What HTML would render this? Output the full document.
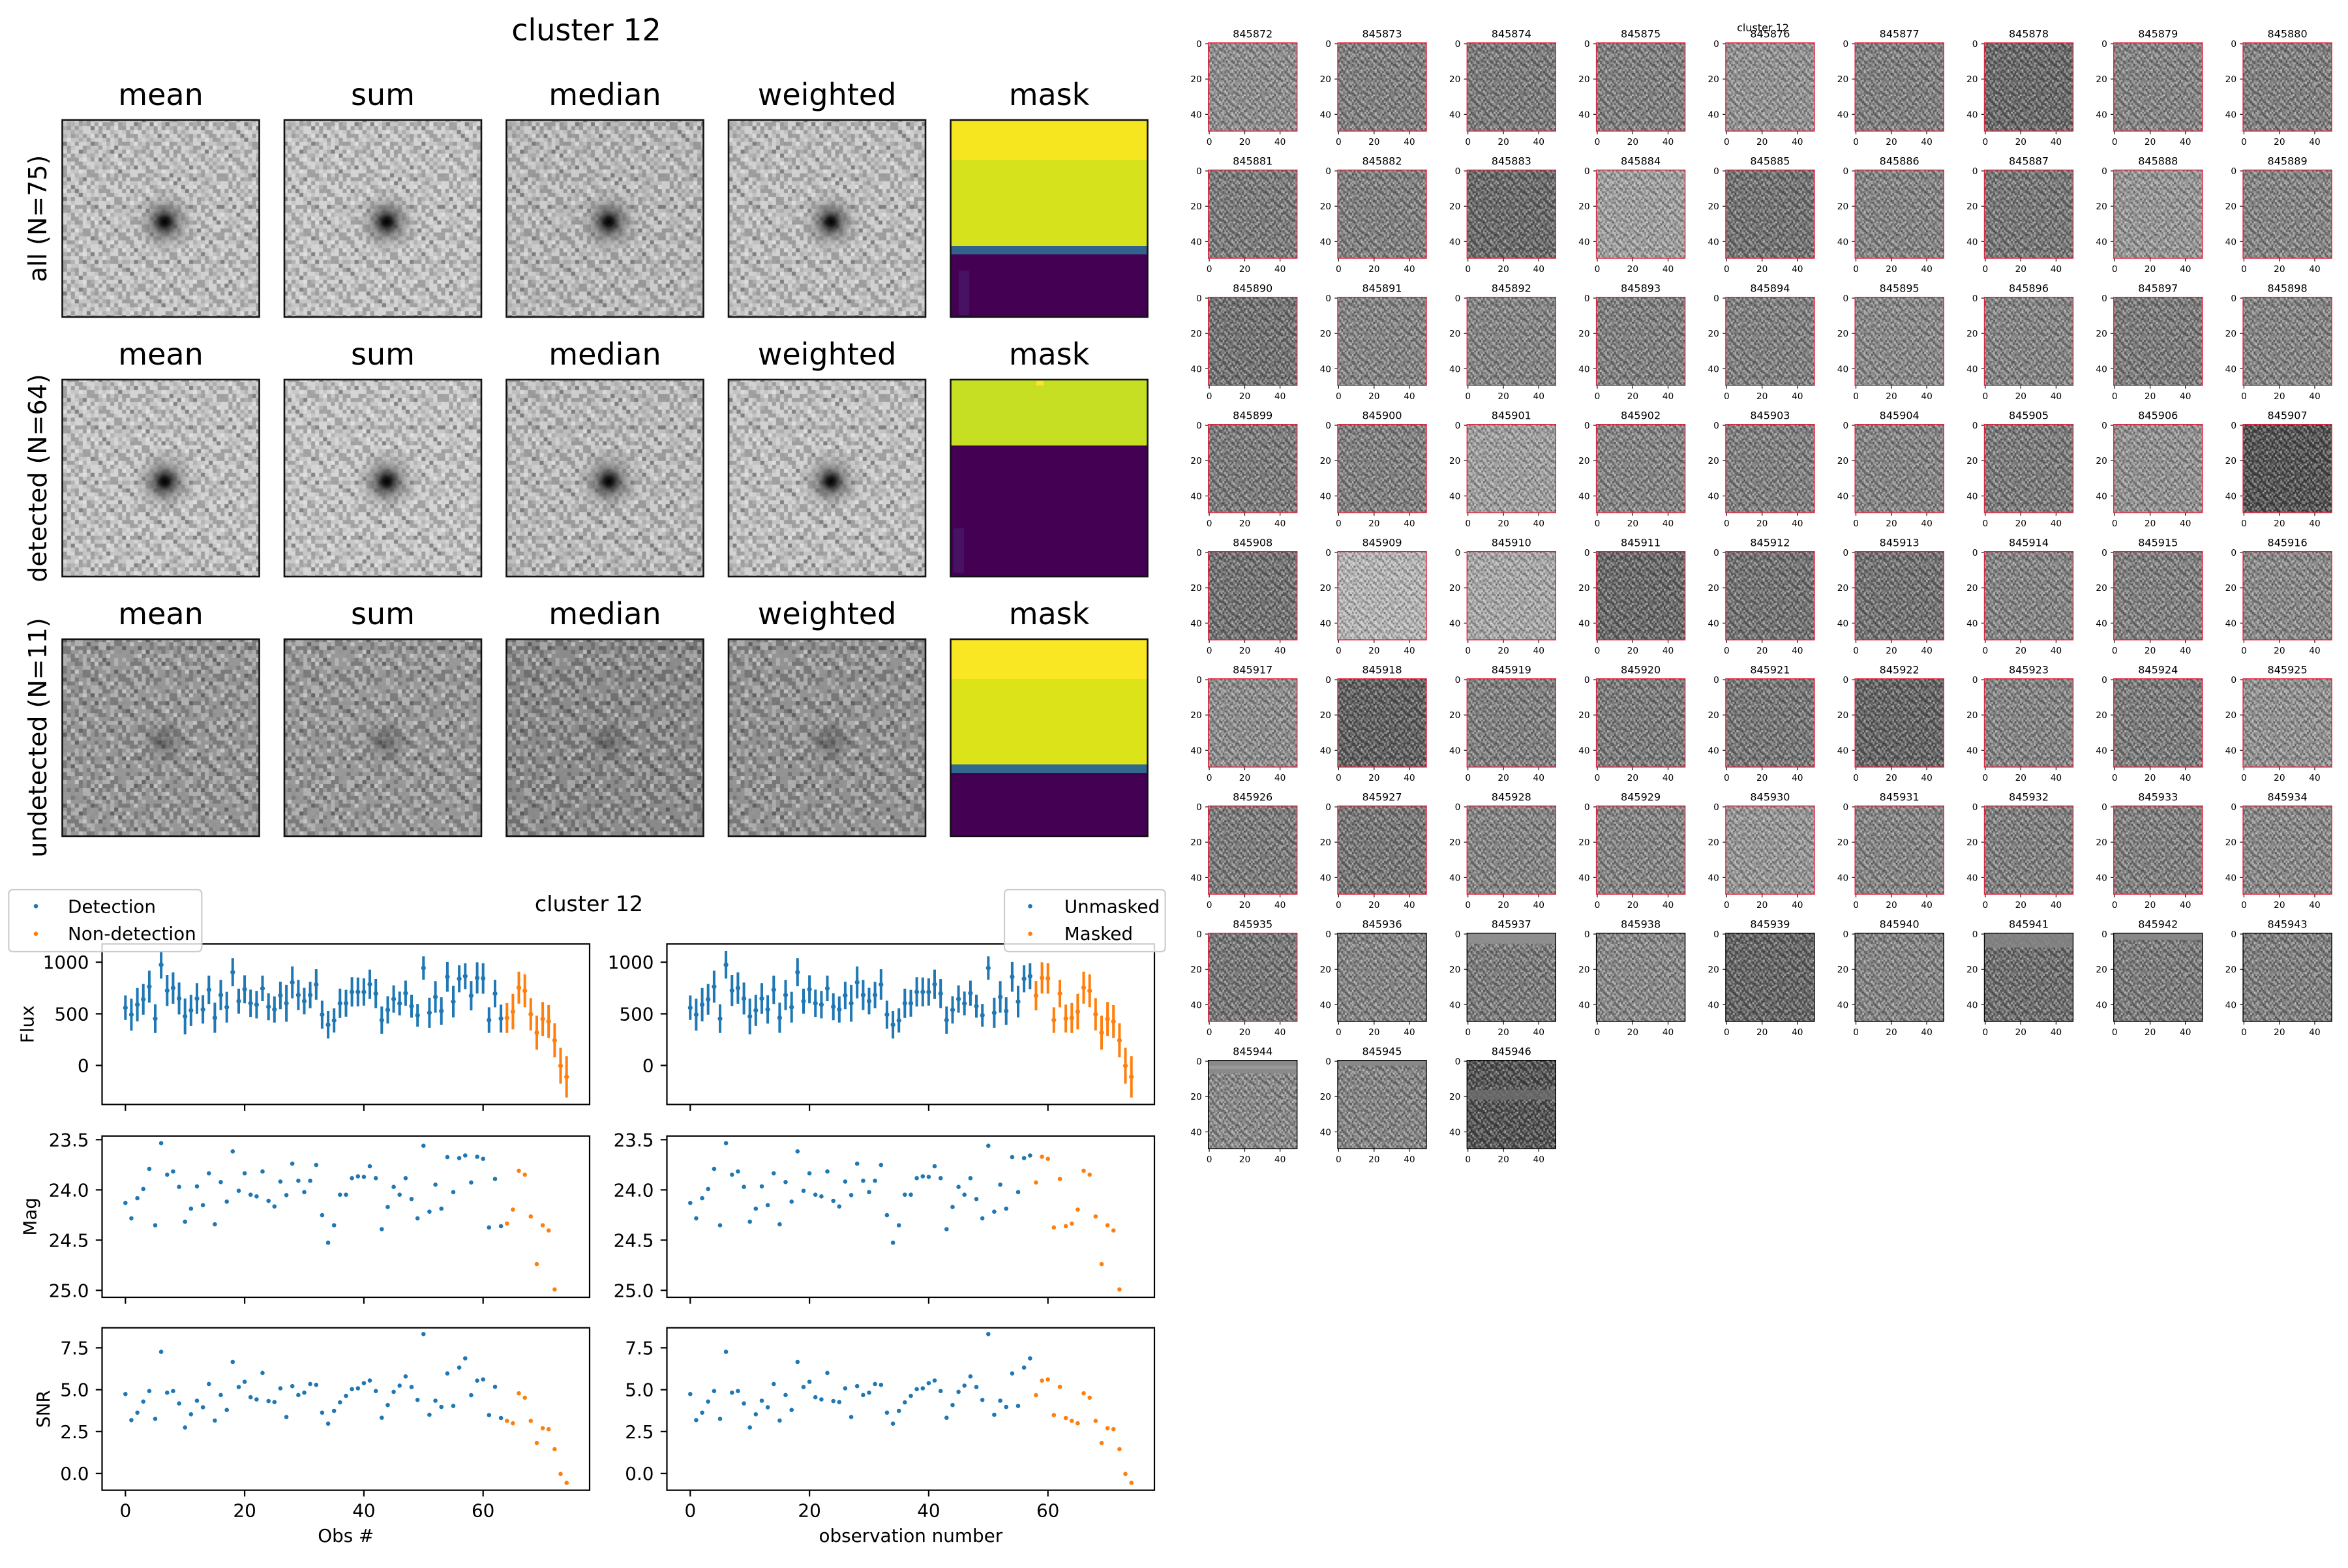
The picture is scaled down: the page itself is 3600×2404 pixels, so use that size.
<!DOCTYPE html>
<html><head><meta charset="utf-8"><style>
html,body{margin:0;padding:0;background:#fff}
svg{display:block}
text{font-family:"DejaVu Sans","Liberation Sans",sans-serif;fill:#000}
.h{font-size:46px;text-anchor:middle}
.rl{font-size:38px;text-anchor:middle}
.l{font-size:27.8px}
.lm{font-size:27.8px;text-anchor:middle}
.le{font-size:27.8px;text-anchor:end}
.tt{font-size:16px;text-anchor:middle}
.ky{font-size:13.7px;text-anchor:end}
.kx{font-size:13.7px;text-anchor:middle}
.sr{fill:none;stroke:#e0203c;stroke-width:1.4}
.sb{fill:none;stroke:#000;stroke-width:1.4}
.fr{fill:none;stroke:#111;stroke-width:2.6}
</style></head><body>
<svg xmlns="http://www.w3.org/2000/svg" xmlns:xlink="http://www.w3.org/1999/xlink" width="3600" height="2404" viewBox="0 0 3600 2404">
<defs>
<pattern id="pa" width="8" height="8" patternUnits="userSpaceOnUse">
<path fill="#fff" fill-opacity=".26" d="M0 0h1v1H0zM2 1h1v1H2zM5 0h1v1H5zM7 2h1v1H7zM1 3h1v1H1zM4 3h1v1H4zM6 5h1v1H6zM3 6h1v1H3zM0 6h1v1H0zM5 7h1v1H5zM2 4h1v1H2zM7 7h1v1H7zM6 1h1v1H6zM3 2h1v1H3zM4 5h1v1H4zM1 7h1v1H1z"/>
<path fill="#000" fill-opacity=".2" d="M1 0h1v1H1zM4 1h1v1H4zM0 2h1v1H0zM6 3h1v1H6zM3 4h1v1H3zM5 5h1v1H5zM1 5h1v1H1zM7 4h1v1H7zM2 7h1v1H2zM4 6h1v1H4zM6 7h1v1H6zM0 4h1v1H0zM3 0h1v1H3zM5 2h1v1H5zM7 0h1v1H7zM2 2h1v1H2z"/>
</pattern>
<pattern id="pb" width="7" height="7" patternUnits="userSpaceOnUse">
<path fill="#fff" fill-opacity=".22" d="M0 1h1v1H0zM3 0h1v1H3zM5 2h1v1H5zM1 4h1v1H1zM6 5h1v1H6zM2 6h1v1H2zM4 3h1v1H4zM0 5h1v1H0zM6 1h1v1H6z"/>
<path fill="#000" fill-opacity=".18" d="M2 1h1v1H2zM6 0h1v1H6zM4 5h1v1H4zM1 2h1v1H1zM3 3h1v1H3zM5 6h1v1H5zM0 3h1v1H0zM6 3h1v1H6zM2 4h1v1H2z"/>
</pattern>
<pattern id="n1" width="56" height="56" patternUnits="userSpaceOnUse" patternTransform="scale(6.04)"><rect width="56" height="56" fill="url(#pa)"/><rect width="56" height="56" fill="url(#pb)"/></pattern>
<pattern id="n2" width="56" height="56" patternUnits="userSpaceOnUse" patternTransform="scale(2.72)"><rect width="56" height="56" fill="url(#pa)"/><rect width="56" height="56" fill="url(#pb)"/><rect width="56" height="56" fill="url(#pa)" opacity=".4"/></pattern>
<radialGradient id="bl"><stop offset="0" stop-color="#000" stop-opacity="1"/><stop offset=".13" stop-color="#111" stop-opacity=".95"/><stop offset=".38" stop-color="#555" stop-opacity=".6"/><stop offset=".7" stop-color="#888" stop-opacity=".25"/><stop offset="1" stop-color="#999" stop-opacity="0"/></radialGradient>
<radialGradient id="bl3"><stop offset="0" stop-color="#333" stop-opacity=".55"/><stop offset=".5" stop-color="#555" stop-opacity=".3"/><stop offset="1" stop-color="#777" stop-opacity="0"/></radialGradient>
<rect id="bx" width="136" height="135.3"/>
<path id="tk" fill="none" stroke="#000" stroke-width="1.2" d="M0 1.35h-4.7M0 55.5h-4.7M0 109.6h-4.7M1.36 135.3v4.7M55.8 135.3v4.7M109.9 135.3v4.7"/>
<g id="ax" fill="none" stroke="#000" stroke-width="2.2">
<rect x="156.5" y="1447.3" width="747.5" height="246"/>
<rect x="156.5" y="1741.7" width="747.5" height="247.3"/>
<rect x="156.5" y="2035.7" width="747.5" height="249"/>
<path d="M156.5 1475.2h-9.7M156.5 1554.35h-9.7M156.5 1633.5h-9.7M156.5 1747.3h-9.7M156.5 1824.3h-9.7M156.5 1901.3h-9.7M156.5 1978.3h-9.7M156.5 2066.4h-9.7M156.5 2130.6h-9.7M156.5 2194.8h-9.7M156.5 2259h-9.7M192.3 1693.3v9.7M375.1 1693.3v9.7M557.9 1693.3v9.7M740.7 1693.3v9.7M192.3 1989v9.7M375.1 1989v9.7M557.9 1989v9.7M740.7 1989v9.7M192.3 2284.7v9.7M375.1 2284.7v9.7M557.9 2284.7v9.7M740.7 2284.7v9.7"/>
</g>
<g id="fA" fill="none">
<path stroke-width="4" d="M192.3 1526.3V1563.7M201.4 1531.1V1580.1M210.6 1514.7V1565.9M219.7 1508.6V1555.8M228.9 1488.2V1537.2M238 1539.8V1583.8M247.1 1458V1500.4M256.3 1495V1542.4M265.4 1490.7V1538.9M274.6 1506.4V1555.4M283.7 1530.9V1585.7M292.8 1525.1V1572.9M302 1507.3V1554.5M311.1 1526V1569.4M320.3 1495.8V1539.2M329.4 1537.3V1583.5M338.5 1502.4V1548.6M347.7 1520.6V1567.8M356.8 1469.1V1512.1M366 1515.7V1554.1M375.1 1495.4V1538.2M384.2 1517.3V1559.1M393.4 1519.2V1561.4M402.5 1495.8V1535M411.7 1522.9V1564.3M420.8 1527.6V1567.8M429.9 1505.1V1547.3M439.1 1509.9V1566.5M448.2 1481.6V1530.6M457.4 1502.4V1548.6M466.5 1514.5V1555.3M475.6 1505.2V1545.8M484.8 1486V1532.8M493.9 1534.1V1577.1M503.1 1550V1592.2M512.2 1546V1583M521.3 1515.7V1560.7M530.5 1517.6V1558.8M539.6 1498.3V1543.3M548.8 1498.6V1543M557.9 1500V1541.8M567 1486.6V1531.6M576.2 1501V1545.6M585.3 1543.1V1584.9M594.5 1527.4V1569.2M603.6 1510.8V1552.6M612.7 1520.2V1556.6M621.9 1503.5V1541.9M631 1525V1560.2M640.2 1539.3V1574.1M649.3 1466.2V1502M658.4 1529.7V1575.9M667.6 1504.2V1552.6M676.7 1529V1571.2M685.9 1474.9V1520.5M695 1511.5V1559.9M704.1 1480V1521.4M713.3 1476.9V1516.5"/>
<path stroke-width="7.2" stroke-linecap="round" d="M192.3 1545h0M201.4 1555.6h0M210.6 1540.3h0M219.7 1532.2h0M228.9 1512.7h0M238 1561.8h0M247.1 1479.2h0M256.3 1518.7h0M265.4 1514.8h0M274.6 1530.9h0M283.7 1558.3h0M292.8 1549h0M302 1530.9h0M311.1 1547.7h0M320.3 1517.5h0M329.4 1560.4h0M338.5 1525.5h0M347.7 1544.2h0M356.8 1490.6h0M366 1534.9h0M375.1 1516.8h0M384.2 1538.2h0M393.4 1540.3h0M402.5 1515.4h0M411.7 1543.6h0M420.8 1547.7h0M429.9 1526.2h0M439.1 1538.2h0M448.2 1506.1h0M457.4 1525.5h0M466.5 1534.9h0M475.6 1525.5h0M484.8 1509.4h0M493.9 1555.6h0M503.1 1571.1h0M512.2 1564.5h0M521.3 1538.2h0M530.5 1538.2h0M539.6 1520.8h0M548.8 1520.8h0M557.9 1520.9h0M567 1509.1h0M576.2 1523.3h0M585.3 1564h0M594.5 1548.3h0M603.6 1531.7h0M612.7 1538.4h0M621.9 1522.7h0M631 1542.6h0M640.2 1556.7h0M649.3 1484.1h0M658.4 1552.8h0M667.6 1528.4h0M676.7 1550.1h0M685.9 1497.7h0M695 1535.7h0M704.1 1500.7h0M713.3 1496.7h0"/>
</g>
<g id="fB" fill="none">
<path stroke-width="4" d="M722.4 1504.1V1549.1M731.6 1475.4V1523.2M740.7 1476.7V1523.5M749.8 1544.4V1583.6M759 1502.2V1544.4M768.1 1540.2V1583"/>
<path stroke-width="7.2" stroke-linecap="round" d="M722.4 1526.6h0M731.6 1499.3h0M740.7 1500.1h0M749.8 1564h0M759 1523.3h0M768.1 1561.6h0"/>
</g>
<g id="fC" fill="none">
<path stroke-width="4" d="M777.3 1537.7V1583.7M786.4 1523.8V1578.2M795.5 1489.8V1538.8M804.7 1493.8V1544.2M813.8 1530.3V1579.7M823 1557.2V1609.4M832.1 1536.3V1588.3M841.2 1540.9V1591.3M850.4 1568.9V1621.1M859.5 1606.5V1661.5M868.7 1619.2V1682.6"/>
<path stroke-width="7.2" stroke-linecap="round" d="M777.3 1560.7h0M786.4 1551h0M795.5 1514.3h0M804.7 1519h0M813.8 1555h0M823 1583.3h0M832.1 1562.3h0M841.2 1566.1h0M850.4 1595h0M859.5 1634h0M868.7 1650.9h0"/>
</g>
<path id="mA" fill="none" stroke-width="6.6" stroke-linecap="round" d="M192.3 1844.3h0M201.4 1867.9h0M210.6 1837.1h0M219.7 1822.9h0M228.9 1792.1h0M238 1878.5h0M247.1 1752.7h0M256.3 1800.9h0M265.4 1796.1h0M274.6 1819.7h0M283.7 1873.1h0M292.8 1853.1h0M302 1818.9h0M311.1 1847.7h0M320.3 1798.9h0M329.4 1877.1h0M338.5 1812.3h0M347.7 1842.3h0M356.8 1765.3h0M366 1825.7h0M375.1 1798.9h0M384.2 1831.7h0M393.4 1834.3h0M402.5 1796.1h0M411.7 1841.1h0M420.8 1849.7h0M429.9 1811.5h0M439.1 1832.3h0M448.2 1784.1h0M457.4 1810.3h0M466.5 1827.7h0M475.6 1810.3h0M484.8 1786.1h0M493.9 1863.1h0M503.1 1905.3h0M512.2 1878.5h0M521.3 1831.7h0M530.5 1831.7h0M539.6 1806.3h0M548.8 1803.5h0M557.9 1804.3h0M567 1788.1h0M576.2 1806.3h0M585.3 1884.5h0M594.5 1850.5h0M603.6 1819.7h0M612.7 1831.7h0M621.9 1806.3h0M631 1838.3h0M640.2 1867.9h0M649.3 1756.7h0M658.4 1857.7h0M667.6 1816.3h0M676.7 1853.1h0M685.9 1774.1h0M695 1827.7h0M704.1 1775.5h0M713.3 1771.5h0"/>
<path id="mB" fill="none" stroke-width="6.6" stroke-linecap="round" d="M722.4 1812.9h0M731.6 1773.5h0M740.7 1776.7h0M749.8 1881.9h0M759 1807.5h0M768.1 1879.9h0"/>
<path id="mC" fill="none" stroke-width="6.6" stroke-linecap="round" d="M777.3 1875.9h0M786.4 1854.5h0M795.5 1794.9h0M804.7 1800.9h0M813.8 1865.1h0M823 1938.1h0M832.1 1878.5h0M841.2 1886.5h0M850.4 1976.9h0"/>
<path id="sA" fill="none" stroke-width="6.6" stroke-linecap="round" d="M192.3 2137.3h0M201.4 2177.3h0M210.6 2165.8h0M219.7 2148.8h0M228.9 2132.7h0M238 2175.3h0M247.1 2072.6h0M256.3 2135.2h0M265.4 2132.7h0M274.6 2151.7h0M283.7 2188.6h0M292.8 2168.3h0M302 2147.5h0M311.1 2157.6h0M320.3 2121.9h0M329.4 2177.9h0M338.5 2138.8h0M347.7 2161.7h0M356.8 2088h0M366 2126.5h0M375.1 2118.5h0M384.2 2142.2h0M393.4 2145.5h0M402.5 2104.9h0M411.7 2148.1h0M420.8 2149.6h0M429.9 2128.5h0M439.1 2172.5h0M448.2 2125.2h0M457.4 2138.8h0M466.5 2135.2h0M475.6 2121.9h0M484.8 2123.2h0M493.9 2165.8h0M503.1 2182.7h0M512.2 2163h0M521.3 2150.1h0M530.5 2140.1h0M539.6 2129.8h0M548.8 2128.5h0M557.9 2120.6h0M567 2116.5h0M576.2 2132.7h0M585.3 2173.7h0M594.5 2154.2h0M603.6 2133.9h0M612.7 2124.4h0M621.9 2110.3h0M631 2126.5h0M640.2 2146.3h0M649.3 2045.3h0M658.4 2169.1h0M667.6 2147.5h0M676.7 2157.1h0M685.9 2105.7h0M695 2155.5h0M704.1 2096.7h0M713.3 2082.6h0"/>
<path id="sB" fill="none" stroke-width="6.6" stroke-linecap="round" d="M722.4 2139.1h0M731.6 2116.7h0M740.7 2114.9h0M749.8 2169.6h0M759 2126.2h0M768.1 2174h0"/>
<path id="sC" fill="none" stroke-width="6.6" stroke-linecap="round" d="M777.3 2178.4h0M786.4 2182.2h0M795.5 2136.2h0M804.7 2142.9h0M813.8 2178.4h0M823 2212.3h0M832.1 2189.7h0M841.2 2191.2h0M850.4 2221.8h0M859.5 2259.8h0M868.7 2273.4h0"/>
</defs>
<rect width="3600" height="2404" fill="#fff"/>

<!-- ===== Top-left stacked images ===== -->
<text class="h" x="899" y="62">cluster 12</text>
<g>
<text class="h" x="246.5" y="161">mean</text><text class="h" x="587" y="161">sum</text><text class="h" x="927.5" y="161">median</text><text class="h" x="1268" y="161">weighted</text><text class="h" x="1608.5" y="161">mask</text>
<text class="h" x="246.5" y="559">mean</text><text class="h" x="587" y="559">sum</text><text class="h" x="927.5" y="559">median</text><text class="h" x="1268" y="559">weighted</text><text class="h" x="1608.5" y="559">mask</text>
<text class="h" x="246.5" y="957">mean</text><text class="h" x="587" y="957">sum</text><text class="h" x="927.5" y="957">median</text><text class="h" x="1268" y="957">weighted</text><text class="h" x="1608.5" y="957">mask</text>
</g>
<text class="rl" transform="translate(71 335) rotate(-90)">all (N=75)</text>
<text class="rl" transform="translate(71 733) rotate(-90)">detected (N=64)</text>
<text class="rl" transform="translate(71 1131) rotate(-90)">undetected (N=11)</text>

<!-- row 1 -->
<rect x="95.5" y="184" width="302" height="302" fill="#c4c4c4"/><rect x="95.5" y="184" width="302" height="302" fill="url(#n1)"/><circle cx="252.5" cy="340" r="52" fill="url(#bl)"/>
<rect x="436" y="184" width="302" height="302" fill="#c6c6c6"/><rect x="436" y="184" width="302" height="302" fill="url(#n1)"/><circle cx="593" cy="340" r="52" fill="url(#bl)"/>
<rect x="776.5" y="184" width="302" height="302" fill="#bcbcbc"/><rect x="776.5" y="184" width="302" height="302" fill="url(#n1)"/><circle cx="933.5" cy="340" r="52" fill="url(#bl)"/>
<rect x="1117" y="184" width="302" height="302" fill="#c2c2c2"/><rect x="1117" y="184" width="302" height="302" fill="url(#n1)"/><circle cx="1274" cy="340" r="50" fill="url(#bl)"/>
<rect x="1457.5" y="184" width="302" height="61" fill="#f6e620"/><rect x="1457.5" y="245" width="302" height="132" fill="#d5e21c"/><rect x="1457.5" y="377" width="302" height="13" fill="#33638d"/><rect x="1457.5" y="390" width="302" height="96" fill="#440154"/><rect x="1470" y="415" width="16" height="68" fill="#4a1c70" opacity=".6"/>
<!-- row 2 -->
<rect x="95.5" y="582" width="302" height="302" fill="#c6c6c6"/><rect x="95.5" y="582" width="302" height="302" fill="url(#n1)"/><circle cx="252.5" cy="738" r="52" fill="url(#bl)"/>
<rect x="436" y="582" width="302" height="302" fill="#c8c8c8"/><rect x="436" y="582" width="302" height="302" fill="url(#n1)"/><circle cx="593" cy="738" r="52" fill="url(#bl)"/>
<rect x="776.5" y="582" width="302" height="302" fill="#bebebe"/><rect x="776.5" y="582" width="302" height="302" fill="url(#n1)"/><circle cx="933.5" cy="738" r="52" fill="url(#bl)"/>
<rect x="1117" y="582" width="302" height="302" fill="#c4c4c4"/><rect x="1117" y="582" width="302" height="302" fill="url(#n1)"/><circle cx="1274" cy="738" r="50" fill="url(#bl)"/>
<rect x="1457.5" y="582" width="302" height="101" fill="#c6df23"/><rect x="1457.5" y="683" width="302" height="201" fill="#440154"/><rect x="1589" y="584" width="11" height="7" fill="#fde725"/><rect x="1462" y="810" width="16" height="68" fill="#4a1c70" opacity=".6"/>
<!-- row 3 -->
<rect x="95.5" y="980" width="302" height="302" fill="#979797"/><rect x="95.5" y="980" width="302" height="302" fill="url(#n1)"/><circle cx="251.5" cy="1137" r="40" fill="url(#bl3)"/>
<rect x="436" y="980" width="302" height="302" fill="#999999"/><rect x="436" y="980" width="302" height="302" fill="url(#n1)"/><circle cx="592" cy="1137" r="40" fill="url(#bl3)"/>
<rect x="776.5" y="980" width="302" height="302" fill="#8a8a8a"/><rect x="776.5" y="980" width="302" height="302" fill="url(#n1)"/><circle cx="932.5" cy="1137" r="36" fill="url(#bl3)"/>
<rect x="1117" y="980" width="302" height="302" fill="#939393"/><rect x="1117" y="980" width="302" height="302" fill="url(#n1)"/><circle cx="1273" cy="1137" r="40" fill="url(#bl3)"/>
<rect x="1457.5" y="980" width="302" height="61" fill="#fae723"/><rect x="1457.5" y="1041" width="302" height="131" fill="#dde319"/><rect x="1457.5" y="1172" width="302" height="13" fill="#31688e"/><rect x="1457.5" y="1185" width="302" height="97" fill="#440154"/>
<!-- frames -->
<g class="fr">
<rect x="95.5" y="184" width="302" height="302"/><rect x="436" y="184" width="302" height="302"/><rect x="776.5" y="184" width="302" height="302"/><rect x="1117" y="184" width="302" height="302"/><rect x="1457.5" y="184" width="302" height="302"/>
<rect x="95.5" y="582" width="302" height="302"/><rect x="436" y="582" width="302" height="302"/><rect x="776.5" y="582" width="302" height="302"/><rect x="1117" y="582" width="302" height="302"/><rect x="1457.5" y="582" width="302" height="302"/>
<rect x="95.5" y="980" width="302" height="302"/><rect x="436" y="980" width="302" height="302"/><rect x="776.5" y="980" width="302" height="302"/><rect x="1117" y="980" width="302" height="302"/><rect x="1457.5" y="980" width="302" height="302"/>
</g>

<!-- ===== Lower light curves ===== -->
<use href="#fA" stroke="#1f77b4"/><use href="#fB" stroke="#1f77b4"/><use href="#fC" stroke="#ff7f0e"/>
<use href="#mA" stroke="#1f77b4"/><use href="#mB" stroke="#1f77b4"/><use href="#mC" stroke="#ff7f0e"/>
<use href="#sA" stroke="#1f77b4"/><use href="#sB" stroke="#1f77b4"/><use href="#sC" stroke="#ff7f0e"/>
<g transform="translate(866 0)">
<use href="#fA" stroke="#1f77b4"/><use href="#fB" stroke="#ff7f0e"/><use href="#fC" stroke="#ff7f0e"/>
<use href="#mA" stroke="#1f77b4"/><use href="#mB" stroke="#ff7f0e"/><use href="#mC" stroke="#ff7f0e"/>
<use href="#sA" stroke="#1f77b4"/><use href="#sB" stroke="#ff7f0e"/><use href="#sC" stroke="#ff7f0e"/>
</g>
<use href="#ax"/><use href="#ax" x="866"/>

<g>
<text class="le" x="136.5" y="1485.2">1000</text><text class="le" x="136.5" y="1564.4">500</text><text class="le" x="136.5" y="1643.5">0</text>
<text class="le" x="136.5" y="1757.3">23.5</text><text class="le" x="136.5" y="1834.3">24.0</text><text class="le" x="136.5" y="1911.3">24.5</text><text class="le" x="136.5" y="1988.3">25.0</text>
<text class="le" x="136.5" y="2076.4">7.5</text><text class="le" x="136.5" y="2140.6">5.0</text><text class="le" x="136.5" y="2204.8">2.5</text><text class="le" x="136.5" y="2269">0.0</text>
<text class="le" x="1002.5" y="1485.2">1000</text><text class="le" x="1002.5" y="1564.4">500</text><text class="le" x="1002.5" y="1643.5">0</text>
<text class="le" x="1002.5" y="1757.3">23.5</text><text class="le" x="1002.5" y="1834.3">24.0</text><text class="le" x="1002.5" y="1911.3">24.5</text><text class="le" x="1002.5" y="1988.3">25.0</text>
<text class="le" x="1002.5" y="2076.4">7.5</text><text class="le" x="1002.5" y="2140.6">5.0</text><text class="le" x="1002.5" y="2204.8">2.5</text><text class="le" x="1002.5" y="2269">0.0</text>
<text class="lm" x="192.3" y="2325.7">0</text><text class="lm" x="375.1" y="2325.7">20</text><text class="lm" x="557.9" y="2325.7">40</text><text class="lm" x="740.7" y="2325.7">60</text>
<text class="lm" x="1058.3" y="2325.7">0</text><text class="lm" x="1241.1" y="2325.7">20</text><text class="lm" x="1423.9" y="2325.7">40</text><text class="lm" x="1606.7" y="2325.7">60</text>
<text class="lm" x="530.3" y="2364">Obs #</text>
<text class="lm" x="1396.3" y="2364">observation number</text>
<text class="lm" transform="translate(51.5 1570.3) rotate(-90)">Flux</text>
<text class="lm" transform="translate(55.5 1865.3) rotate(-90)">Mag</text>
<text class="lm" transform="translate(76 2160.2) rotate(-90)">SNR</text>
<text x="903" y="1397" style="font-size:33.3px;text-anchor:middle">cluster 12</text>
</g>
<!-- legends -->
<rect x="13.3" y="1364" width="296" height="95" rx="6" fill="#fff" fill-opacity=".8" stroke="#cccccc" stroke-width="2.2"/>
<circle cx="55" cy="1389.3" r="3.3" fill="#1f77b4"/><circle cx="55" cy="1431.7" r="3.3" fill="#ff7f0e"/>
<text class="l" x="104" y="1399.3">Detection</text><text class="l" x="104" y="1441">Non-detection</text>
<rect x="1540" y="1364" width="246.7" height="95" rx="6" fill="#fff" fill-opacity=".8" stroke="#cccccc" stroke-width="2.2"/>
<circle cx="1579.5" cy="1389.3" r="3.3" fill="#1f77b4"/><circle cx="1579.5" cy="1431.7" r="3.3" fill="#ff7f0e"/>
<text class="l" x="1631.7" y="1399.3">Unmasked</text><text class="l" x="1631.7" y="1441">Masked</text>

<!-- ===== Thumbnail grid ===== -->
<text x="2703" y="48" style="font-size:16px;text-anchor:middle">cluster 12</text>

<g transform="translate(1852.7 65.7)"><use href="#bx" fill="#8c8c8c"/><use href="#bx" fill="url(#n2)"/><use href="#tk"/><use href="#bx" class="sr"/><text class="tt" x="68" y="-8.2">845872</text><text class="ky" x="-10"><tspan y="6.4">0</tspan><tspan x="-10" y="60.5">20</tspan><tspan x="-10" y="114.6">40</tspan></text><text class="kx" y="156.5"><tspan x="1.4">0</tspan><tspan x="55.8">20</tspan><tspan x="109.9">40</tspan></text></g>
<g transform="translate(2051 65.7)"><use href="#bx" fill="#7d7d7d"/><use href="#bx" fill="url(#n2)"/><use href="#tk"/><use href="#bx" class="sr"/><text class="tt" x="68" y="-8.2">845873</text><text class="ky" x="-10"><tspan y="6.4">0</tspan><tspan x="-10" y="60.5">20</tspan><tspan x="-10" y="114.6">40</tspan></text><text class="kx" y="156.5"><tspan x="1.4">0</tspan><tspan x="55.8">20</tspan><tspan x="109.9">40</tspan></text></g>
<g transform="translate(2249.3 65.7)"><use href="#bx" fill="#787878"/><use href="#bx" fill="url(#n2)"/><use href="#tk"/><use href="#bx" class="sr"/><text class="tt" x="68" y="-8.2">845874</text><text class="ky" x="-10"><tspan y="6.4">0</tspan><tspan x="-10" y="60.5">20</tspan><tspan x="-10" y="114.6">40</tspan></text><text class="kx" y="156.5"><tspan x="1.4">0</tspan><tspan x="55.8">20</tspan><tspan x="109.9">40</tspan></text></g>
<g transform="translate(2447.6 65.7)"><use href="#bx" fill="#7d7d7d"/><use href="#bx" fill="url(#n2)"/><use href="#tk"/><use href="#bx" class="sr"/><text class="tt" x="68" y="-8.2">845875</text><text class="ky" x="-10"><tspan y="6.4">0</tspan><tspan x="-10" y="60.5">20</tspan><tspan x="-10" y="114.6">40</tspan></text><text class="kx" y="156.5"><tspan x="1.4">0</tspan><tspan x="55.8">20</tspan><tspan x="109.9">40</tspan></text></g>
<g transform="translate(2645.9 65.7)"><use href="#bx" fill="#919191"/><use href="#bx" fill="url(#n2)"/><use href="#tk"/><use href="#bx" class="sr"/><text class="tt" x="68" y="-8.2">845876</text><text class="ky" x="-10"><tspan y="6.4">0</tspan><tspan x="-10" y="60.5">20</tspan><tspan x="-10" y="114.6">40</tspan></text><text class="kx" y="156.5"><tspan x="1.4">0</tspan><tspan x="55.8">20</tspan><tspan x="109.9">40</tspan></text></g>
<g transform="translate(2844.2 65.7)"><use href="#bx" fill="#7d7d7d"/><use href="#bx" fill="url(#n2)"/><use href="#tk"/><use href="#bx" class="sr"/><text class="tt" x="68" y="-8.2">845877</text><text class="ky" x="-10"><tspan y="6.4">0</tspan><tspan x="-10" y="60.5">20</tspan><tspan x="-10" y="114.6">40</tspan></text><text class="kx" y="156.5"><tspan x="1.4">0</tspan><tspan x="55.8">20</tspan><tspan x="109.9">40</tspan></text></g>
<g transform="translate(3042.5 65.7)"><use href="#bx" fill="#646464"/><use href="#bx" fill="url(#n2)"/><use href="#tk"/><use href="#bx" class="sr"/><text class="tt" x="68" y="-8.2">845878</text><text class="ky" x="-10"><tspan y="6.4">0</tspan><tspan x="-10" y="60.5">20</tspan><tspan x="-10" y="114.6">40</tspan></text><text class="kx" y="156.5"><tspan x="1.4">0</tspan><tspan x="55.8">20</tspan><tspan x="109.9">40</tspan></text></g>
<g transform="translate(3240.8 65.7)"><use href="#bx" fill="#828282"/><use href="#bx" fill="url(#n2)"/><use href="#tk"/><use href="#bx" class="sr"/><text class="tt" x="68" y="-8.2">845879</text><text class="ky" x="-10"><tspan y="6.4">0</tspan><tspan x="-10" y="60.5">20</tspan><tspan x="-10" y="114.6">40</tspan></text><text class="kx" y="156.5"><tspan x="1.4">0</tspan><tspan x="55.8">20</tspan><tspan x="109.9">40</tspan></text></g>
<g transform="translate(3439.1 65.7)"><use href="#bx" fill="#7d7d7d"/><use href="#bx" fill="url(#n2)"/><use href="#tk"/><use href="#bx" class="sr"/><text class="tt" x="68" y="-8.2">845880</text><text class="ky" x="-10"><tspan y="6.4">0</tspan><tspan x="-10" y="60.5">20</tspan><tspan x="-10" y="114.6">40</tspan></text><text class="kx" y="156.5"><tspan x="1.4">0</tspan><tspan x="55.8">20</tspan><tspan x="109.9">40</tspan></text></g>

<g transform="translate(1852.7 260.7)"><use href="#bx" fill="#787878"/><use href="#bx" fill="url(#n2)"/><use href="#tk"/><use href="#bx" class="sr"/><text class="tt" x="68" y="-8.2">845881</text><text class="ky" x="-10"><tspan y="6.4">0</tspan><tspan x="-10" y="60.5">20</tspan><tspan x="-10" y="114.6">40</tspan></text><text class="kx" y="156.5"><tspan x="1.4">0</tspan><tspan x="55.8">20</tspan><tspan x="109.9">40</tspan></text></g>
<g transform="translate(2051 260.7)"><use href="#bx" fill="#7d7d7d"/><use href="#bx" fill="url(#n2)"/><use href="#tk"/><use href="#bx" class="sr"/><text class="tt" x="68" y="-8.2">845882</text><text class="ky" x="-10"><tspan y="6.4">0</tspan><tspan x="-10" y="60.5">20</tspan><tspan x="-10" y="114.6">40</tspan></text><text class="kx" y="156.5"><tspan x="1.4">0</tspan><tspan x="55.8">20</tspan><tspan x="109.9">40</tspan></text></g>
<g transform="translate(2249.3 260.7)"><use href="#bx" fill="#646464"/><use href="#bx" fill="url(#n2)"/><use href="#tk"/><use href="#bx" class="sr"/><text class="tt" x="68" y="-8.2">845883</text><text class="ky" x="-10"><tspan y="6.4">0</tspan><tspan x="-10" y="60.5">20</tspan><tspan x="-10" y="114.6">40</tspan></text><text class="kx" y="156.5"><tspan x="1.4">0</tspan><tspan x="55.8">20</tspan><tspan x="109.9">40</tspan></text></g>
<g transform="translate(2447.6 260.7)"><use href="#bx" fill="#a0a0a0"/><use href="#bx" fill="url(#n2)"/><use href="#tk"/><use href="#bx" class="sr"/><text class="tt" x="68" y="-8.2">845884</text><text class="ky" x="-10"><tspan y="6.4">0</tspan><tspan x="-10" y="60.5">20</tspan><tspan x="-10" y="114.6">40</tspan></text><text class="kx" y="156.5"><tspan x="1.4">0</tspan><tspan x="55.8">20</tspan><tspan x="109.9">40</tspan></text></g>
<g transform="translate(2645.9 260.7)"><use href="#bx" fill="#6e6e6e"/><use href="#bx" fill="url(#n2)"/><use href="#tk"/><use href="#bx" class="sr"/><text class="tt" x="68" y="-8.2">845885</text><text class="ky" x="-10"><tspan y="6.4">0</tspan><tspan x="-10" y="60.5">20</tspan><tspan x="-10" y="114.6">40</tspan></text><text class="kx" y="156.5"><tspan x="1.4">0</tspan><tspan x="55.8">20</tspan><tspan x="109.9">40</tspan></text></g>
<g transform="translate(2844.2 260.7)"><use href="#bx" fill="#828282"/><use href="#bx" fill="url(#n2)"/><use href="#tk"/><use href="#bx" class="sr"/><text class="tt" x="68" y="-8.2">845886</text><text class="ky" x="-10"><tspan y="6.4">0</tspan><tspan x="-10" y="60.5">20</tspan><tspan x="-10" y="114.6">40</tspan></text><text class="kx" y="156.5"><tspan x="1.4">0</tspan><tspan x="55.8">20</tspan><tspan x="109.9">40</tspan></text></g>
<g transform="translate(3042.5 260.7)"><use href="#bx" fill="#737373"/><use href="#bx" fill="url(#n2)"/><use href="#tk"/><use href="#bx" class="sr"/><text class="tt" x="68" y="-8.2">845887</text><text class="ky" x="-10"><tspan y="6.4">0</tspan><tspan x="-10" y="60.5">20</tspan><tspan x="-10" y="114.6">40</tspan></text><text class="kx" y="156.5"><tspan x="1.4">0</tspan><tspan x="55.8">20</tspan><tspan x="109.9">40</tspan></text></g>
<g transform="translate(3240.8 260.7)"><use href="#bx" fill="#969696"/><use href="#bx" fill="url(#n2)"/><use href="#tk"/><use href="#bx" class="sr"/><text class="tt" x="68" y="-8.2">845888</text><text class="ky" x="-10"><tspan y="6.4">0</tspan><tspan x="-10" y="60.5">20</tspan><tspan x="-10" y="114.6">40</tspan></text><text class="kx" y="156.5"><tspan x="1.4">0</tspan><tspan x="55.8">20</tspan><tspan x="109.9">40</tspan></text></g>
<g transform="translate(3439.1 260.7)"><use href="#bx" fill="#828282"/><use href="#bx" fill="url(#n2)"/><use href="#tk"/><use href="#bx" class="sr"/><text class="tt" x="68" y="-8.2">845889</text><text class="ky" x="-10"><tspan y="6.4">0</tspan><tspan x="-10" y="60.5">20</tspan><tspan x="-10" y="114.6">40</tspan></text><text class="kx" y="156.5"><tspan x="1.4">0</tspan><tspan x="55.8">20</tspan><tspan x="109.9">40</tspan></text></g>

<g transform="translate(1852.7 455.7)"><use href="#bx" fill="#6e6e6e"/><use href="#bx" fill="url(#n2)"/><use href="#tk"/><use href="#bx" class="sr"/><text class="tt" x="68" y="-8.2">845890</text><text class="ky" x="-10"><tspan y="6.4">0</tspan><tspan x="-10" y="60.5">20</tspan><tspan x="-10" y="114.6">40</tspan></text><text class="kx" y="156.5"><tspan x="1.4">0</tspan><tspan x="55.8">20</tspan><tspan x="109.9">40</tspan></text></g>
<g transform="translate(2051 455.7)"><use href="#bx" fill="#828282"/><use href="#bx" fill="url(#n2)"/><use href="#tk"/><use href="#bx" class="sr"/><text class="tt" x="68" y="-8.2">845891</text><text class="ky" x="-10"><tspan y="6.4">0</tspan><tspan x="-10" y="60.5">20</tspan><tspan x="-10" y="114.6">40</tspan></text><text class="kx" y="156.5"><tspan x="1.4">0</tspan><tspan x="55.8">20</tspan><tspan x="109.9">40</tspan></text></g>
<g transform="translate(2249.3 455.7)"><use href="#bx" fill="#828282"/><use href="#bx" fill="url(#n2)"/><use href="#tk"/><use href="#bx" class="sr"/><text class="tt" x="68" y="-8.2">845892</text><text class="ky" x="-10"><tspan y="6.4">0</tspan><tspan x="-10" y="60.5">20</tspan><tspan x="-10" y="114.6">40</tspan></text><text class="kx" y="156.5"><tspan x="1.4">0</tspan><tspan x="55.8">20</tspan><tspan x="109.9">40</tspan></text></g>
<g transform="translate(2447.6 455.7)"><use href="#bx" fill="#7d7d7d"/><use href="#bx" fill="url(#n2)"/><use href="#tk"/><use href="#bx" class="sr"/><text class="tt" x="68" y="-8.2">845893</text><text class="ky" x="-10"><tspan y="6.4">0</tspan><tspan x="-10" y="60.5">20</tspan><tspan x="-10" y="114.6">40</tspan></text><text class="kx" y="156.5"><tspan x="1.4">0</tspan><tspan x="55.8">20</tspan><tspan x="109.9">40</tspan></text></g>
<g transform="translate(2645.9 455.7)"><use href="#bx" fill="#7d7d7d"/><use href="#bx" fill="url(#n2)"/><use href="#tk"/><use href="#bx" class="sr"/><text class="tt" x="68" y="-8.2">845894</text><text class="ky" x="-10"><tspan y="6.4">0</tspan><tspan x="-10" y="60.5">20</tspan><tspan x="-10" y="114.6">40</tspan></text><text class="kx" y="156.5"><tspan x="1.4">0</tspan><tspan x="55.8">20</tspan><tspan x="109.9">40</tspan></text></g>
<g transform="translate(2844.2 455.7)"><use href="#bx" fill="#878787"/><use href="#bx" fill="url(#n2)"/><use href="#tk"/><use href="#bx" class="sr"/><text class="tt" x="68" y="-8.2">845895</text><text class="ky" x="-10"><tspan y="6.4">0</tspan><tspan x="-10" y="60.5">20</tspan><tspan x="-10" y="114.6">40</tspan></text><text class="kx" y="156.5"><tspan x="1.4">0</tspan><tspan x="55.8">20</tspan><tspan x="109.9">40</tspan></text></g>
<g transform="translate(3042.5 455.7)"><use href="#bx" fill="#828282"/><use href="#bx" fill="url(#n2)"/><use href="#tk"/><use href="#bx" class="sr"/><text class="tt" x="68" y="-8.2">845896</text><text class="ky" x="-10"><tspan y="6.4">0</tspan><tspan x="-10" y="60.5">20</tspan><tspan x="-10" y="114.6">40</tspan></text><text class="kx" y="156.5"><tspan x="1.4">0</tspan><tspan x="55.8">20</tspan><tspan x="109.9">40</tspan></text></g>
<g transform="translate(3240.8 455.7)"><use href="#bx" fill="#787878"/><use href="#bx" fill="url(#n2)"/><use href="#tk"/><use href="#bx" class="sr"/><text class="tt" x="68" y="-8.2">845897</text><text class="ky" x="-10"><tspan y="6.4">0</tspan><tspan x="-10" y="60.5">20</tspan><tspan x="-10" y="114.6">40</tspan></text><text class="kx" y="156.5"><tspan x="1.4">0</tspan><tspan x="55.8">20</tspan><tspan x="109.9">40</tspan></text></g>
<g transform="translate(3439.1 455.7)"><use href="#bx" fill="#828282"/><use href="#bx" fill="url(#n2)"/><use href="#tk"/><use href="#bx" class="sr"/><text class="tt" x="68" y="-8.2">845898</text><text class="ky" x="-10"><tspan y="6.4">0</tspan><tspan x="-10" y="60.5">20</tspan><tspan x="-10" y="114.6">40</tspan></text><text class="kx" y="156.5"><tspan x="1.4">0</tspan><tspan x="55.8">20</tspan><tspan x="109.9">40</tspan></text></g>

<g transform="translate(1852.7 650.7)"><use href="#bx" fill="#787878"/><use href="#bx" fill="url(#n2)"/><use href="#tk"/><use href="#bx" class="sr"/><text class="tt" x="68" y="-8.2">845899</text><text class="ky" x="-10"><tspan y="6.4">0</tspan><tspan x="-10" y="60.5">20</tspan><tspan x="-10" y="114.6">40</tspan></text><text class="kx" y="156.5"><tspan x="1.4">0</tspan><tspan x="55.8">20</tspan><tspan x="109.9">40</tspan></text></g>
<g transform="translate(2051 650.7)"><use href="#bx" fill="#7d7d7d"/><use href="#bx" fill="url(#n2)"/><use href="#tk"/><use href="#bx" class="sr"/><text class="tt" x="68" y="-8.2">845900</text><text class="ky" x="-10"><tspan y="6.4">0</tspan><tspan x="-10" y="60.5">20</tspan><tspan x="-10" y="114.6">40</tspan></text><text class="kx" y="156.5"><tspan x="1.4">0</tspan><tspan x="55.8">20</tspan><tspan x="109.9">40</tspan></text></g>
<g transform="translate(2249.3 650.7)"><use href="#bx" fill="#a0a0a0"/><use href="#bx" fill="url(#n2)"/><use href="#tk"/><use href="#bx" class="sr"/><text class="tt" x="68" y="-8.2">845901</text><text class="ky" x="-10"><tspan y="6.4">0</tspan><tspan x="-10" y="60.5">20</tspan><tspan x="-10" y="114.6">40</tspan></text><text class="kx" y="156.5"><tspan x="1.4">0</tspan><tspan x="55.8">20</tspan><tspan x="109.9">40</tspan></text></g>
<g transform="translate(2447.6 650.7)"><use href="#bx" fill="#828282"/><use href="#bx" fill="url(#n2)"/><use href="#tk"/><use href="#bx" class="sr"/><text class="tt" x="68" y="-8.2">845902</text><text class="ky" x="-10"><tspan y="6.4">0</tspan><tspan x="-10" y="60.5">20</tspan><tspan x="-10" y="114.6">40</tspan></text><text class="kx" y="156.5"><tspan x="1.4">0</tspan><tspan x="55.8">20</tspan><tspan x="109.9">40</tspan></text></g>
<g transform="translate(2645.9 650.7)"><use href="#bx" fill="#7d7d7d"/><use href="#bx" fill="url(#n2)"/><use href="#tk"/><use href="#bx" class="sr"/><text class="tt" x="68" y="-8.2">845903</text><text class="ky" x="-10"><tspan y="6.4">0</tspan><tspan x="-10" y="60.5">20</tspan><tspan x="-10" y="114.6">40</tspan></text><text class="kx" y="156.5"><tspan x="1.4">0</tspan><tspan x="55.8">20</tspan><tspan x="109.9">40</tspan></text></g>
<g transform="translate(2844.2 650.7)"><use href="#bx" fill="#828282"/><use href="#bx" fill="url(#n2)"/><use href="#tk"/><use href="#bx" class="sr"/><text class="tt" x="68" y="-8.2">845904</text><text class="ky" x="-10"><tspan y="6.4">0</tspan><tspan x="-10" y="60.5">20</tspan><tspan x="-10" y="114.6">40</tspan></text><text class="kx" y="156.5"><tspan x="1.4">0</tspan><tspan x="55.8">20</tspan><tspan x="109.9">40</tspan></text></g>
<g transform="translate(3042.5 650.7)"><use href="#bx" fill="#787878"/><use href="#bx" fill="url(#n2)"/><use href="#tk"/><use href="#bx" class="sr"/><text class="tt" x="68" y="-8.2">845905</text><text class="ky" x="-10"><tspan y="6.4">0</tspan><tspan x="-10" y="60.5">20</tspan><tspan x="-10" y="114.6">40</tspan></text><text class="kx" y="156.5"><tspan x="1.4">0</tspan><tspan x="55.8">20</tspan><tspan x="109.9">40</tspan></text></g>
<g transform="translate(3240.8 650.7)"><use href="#bx" fill="#919191"/><use href="#bx" fill="url(#n2)"/><use href="#tk"/><use href="#bx" class="sr"/><text class="tt" x="68" y="-8.2">845906</text><text class="ky" x="-10"><tspan y="6.4">0</tspan><tspan x="-10" y="60.5">20</tspan><tspan x="-10" y="114.6">40</tspan></text><text class="kx" y="156.5"><tspan x="1.4">0</tspan><tspan x="55.8">20</tspan><tspan x="109.9">40</tspan></text></g>
<g transform="translate(3439.1 650.7)"><use href="#bx" fill="#4b4b4b"/><use href="#bx" fill="url(#n2)"/><use href="#tk"/><use href="#bx" class="sr"/><text class="tt" x="68" y="-8.2">845907</text><text class="ky" x="-10"><tspan y="6.4">0</tspan><tspan x="-10" y="60.5">20</tspan><tspan x="-10" y="114.6">40</tspan></text><text class="kx" y="156.5"><tspan x="1.4">0</tspan><tspan x="55.8">20</tspan><tspan x="109.9">40</tspan></text></g>

<g transform="translate(1852.7 845.7)"><use href="#bx" fill="#6e6e6e"/><use href="#bx" fill="url(#n2)"/><use href="#tk"/><use href="#bx" class="sr"/><text class="tt" x="68" y="-8.2">845908</text><text class="ky" x="-10"><tspan y="6.4">0</tspan><tspan x="-10" y="60.5">20</tspan><tspan x="-10" y="114.6">40</tspan></text><text class="kx" y="156.5"><tspan x="1.4">0</tspan><tspan x="55.8">20</tspan><tspan x="109.9">40</tspan></text></g>
<g transform="translate(2051 845.7)"><use href="#bx" fill="#b9b9b9"/><use href="#bx" fill="url(#n2)"/><use href="#tk"/><use href="#bx" class="sr"/><text class="tt" x="68" y="-8.2">845909</text><text class="ky" x="-10"><tspan y="6.4">0</tspan><tspan x="-10" y="60.5">20</tspan><tspan x="-10" y="114.6">40</tspan></text><text class="kx" y="156.5"><tspan x="1.4">0</tspan><tspan x="55.8">20</tspan><tspan x="109.9">40</tspan></text></g>
<g transform="translate(2249.3 845.7)"><use href="#bx" fill="#aaaaaa"/><use href="#bx" fill="url(#n2)"/><use href="#tk"/><use href="#bx" class="sr"/><text class="tt" x="68" y="-8.2">845910</text><text class="ky" x="-10"><tspan y="6.4">0</tspan><tspan x="-10" y="60.5">20</tspan><tspan x="-10" y="114.6">40</tspan></text><text class="kx" y="156.5"><tspan x="1.4">0</tspan><tspan x="55.8">20</tspan><tspan x="109.9">40</tspan></text></g>
<g transform="translate(2447.6 845.7)"><use href="#bx" fill="#646464"/><use href="#bx" fill="url(#n2)"/><use href="#tk"/><use href="#bx" class="sr"/><text class="tt" x="68" y="-8.2">845911</text><text class="ky" x="-10"><tspan y="6.4">0</tspan><tspan x="-10" y="60.5">20</tspan><tspan x="-10" y="114.6">40</tspan></text><text class="kx" y="156.5"><tspan x="1.4">0</tspan><tspan x="55.8">20</tspan><tspan x="109.9">40</tspan></text></g>
<g transform="translate(2645.9 845.7)"><use href="#bx" fill="#6e6e6e"/><use href="#bx" fill="url(#n2)"/><use href="#tk"/><use href="#bx" class="sr"/><text class="tt" x="68" y="-8.2">845912</text><text class="ky" x="-10"><tspan y="6.4">0</tspan><tspan x="-10" y="60.5">20</tspan><tspan x="-10" y="114.6">40</tspan></text><text class="kx" y="156.5"><tspan x="1.4">0</tspan><tspan x="55.8">20</tspan><tspan x="109.9">40</tspan></text></g>
<g transform="translate(2844.2 845.7)"><use href="#bx" fill="#6e6e6e"/><use href="#bx" fill="url(#n2)"/><use href="#tk"/><use href="#bx" class="sr"/><text class="tt" x="68" y="-8.2">845913</text><text class="ky" x="-10"><tspan y="6.4">0</tspan><tspan x="-10" y="60.5">20</tspan><tspan x="-10" y="114.6">40</tspan></text><text class="kx" y="156.5"><tspan x="1.4">0</tspan><tspan x="55.8">20</tspan><tspan x="109.9">40</tspan></text></g>
<g transform="translate(3042.5 845.7)"><use href="#bx" fill="#828282"/><use href="#bx" fill="url(#n2)"/><use href="#tk"/><use href="#bx" class="sr"/><text class="tt" x="68" y="-8.2">845914</text><text class="ky" x="-10"><tspan y="6.4">0</tspan><tspan x="-10" y="60.5">20</tspan><tspan x="-10" y="114.6">40</tspan></text><text class="kx" y="156.5"><tspan x="1.4">0</tspan><tspan x="55.8">20</tspan><tspan x="109.9">40</tspan></text></g>
<g transform="translate(3240.8 845.7)"><use href="#bx" fill="#7d7d7d"/><use href="#bx" fill="url(#n2)"/><use href="#tk"/><use href="#bx" class="sr"/><text class="tt" x="68" y="-8.2">845915</text><text class="ky" x="-10"><tspan y="6.4">0</tspan><tspan x="-10" y="60.5">20</tspan><tspan x="-10" y="114.6">40</tspan></text><text class="kx" y="156.5"><tspan x="1.4">0</tspan><tspan x="55.8">20</tspan><tspan x="109.9">40</tspan></text></g>
<g transform="translate(3439.1 845.7)"><use href="#bx" fill="#878787"/><use href="#bx" fill="url(#n2)"/><use href="#tk"/><use href="#bx" class="sr"/><text class="tt" x="68" y="-8.2">845916</text><text class="ky" x="-10"><tspan y="6.4">0</tspan><tspan x="-10" y="60.5">20</tspan><tspan x="-10" y="114.6">40</tspan></text><text class="kx" y="156.5"><tspan x="1.4">0</tspan><tspan x="55.8">20</tspan><tspan x="109.9">40</tspan></text></g>

<g transform="translate(1852.7 1040.7)"><use href="#bx" fill="#8c8c8c"/><use href="#bx" fill="url(#n2)"/><use href="#tk"/><use href="#bx" class="sr"/><text class="tt" x="68" y="-8.2">845917</text><text class="ky" x="-10"><tspan y="6.4">0</tspan><tspan x="-10" y="60.5">20</tspan><tspan x="-10" y="114.6">40</tspan></text><text class="kx" y="156.5"><tspan x="1.4">0</tspan><tspan x="55.8">20</tspan><tspan x="109.9">40</tspan></text></g>
<g transform="translate(2051 1040.7)"><use href="#bx" fill="#5a5a5a"/><use href="#bx" fill="url(#n2)"/><use href="#tk"/><use href="#bx" class="sr"/><text class="tt" x="68" y="-8.2">845918</text><text class="ky" x="-10"><tspan y="6.4">0</tspan><tspan x="-10" y="60.5">20</tspan><tspan x="-10" y="114.6">40</tspan></text><text class="kx" y="156.5"><tspan x="1.4">0</tspan><tspan x="55.8">20</tspan><tspan x="109.9">40</tspan></text></g>
<g transform="translate(2249.3 1040.7)"><use href="#bx" fill="#7d7d7d"/><use href="#bx" fill="url(#n2)"/><use href="#tk"/><use href="#bx" class="sr"/><text class="tt" x="68" y="-8.2">845919</text><text class="ky" x="-10"><tspan y="6.4">0</tspan><tspan x="-10" y="60.5">20</tspan><tspan x="-10" y="114.6">40</tspan></text><text class="kx" y="156.5"><tspan x="1.4">0</tspan><tspan x="55.8">20</tspan><tspan x="109.9">40</tspan></text></g>
<g transform="translate(2447.6 1040.7)"><use href="#bx" fill="#787878"/><use href="#bx" fill="url(#n2)"/><use href="#tk"/><use href="#bx" class="sr"/><text class="tt" x="68" y="-8.2">845920</text><text class="ky" x="-10"><tspan y="6.4">0</tspan><tspan x="-10" y="60.5">20</tspan><tspan x="-10" y="114.6">40</tspan></text><text class="kx" y="156.5"><tspan x="1.4">0</tspan><tspan x="55.8">20</tspan><tspan x="109.9">40</tspan></text></g>
<g transform="translate(2645.9 1040.7)"><use href="#bx" fill="#737373"/><use href="#bx" fill="url(#n2)"/><use href="#tk"/><use href="#bx" class="sr"/><text class="tt" x="68" y="-8.2">845921</text><text class="ky" x="-10"><tspan y="6.4">0</tspan><tspan x="-10" y="60.5">20</tspan><tspan x="-10" y="114.6">40</tspan></text><text class="kx" y="156.5"><tspan x="1.4">0</tspan><tspan x="55.8">20</tspan><tspan x="109.9">40</tspan></text></g>
<g transform="translate(2844.2 1040.7)"><use href="#bx" fill="#5f5f5f"/><use href="#bx" fill="url(#n2)"/><use href="#tk"/><use href="#bx" class="sr"/><text class="tt" x="68" y="-8.2">845922</text><text class="ky" x="-10"><tspan y="6.4">0</tspan><tspan x="-10" y="60.5">20</tspan><tspan x="-10" y="114.6">40</tspan></text><text class="kx" y="156.5"><tspan x="1.4">0</tspan><tspan x="55.8">20</tspan><tspan x="109.9">40</tspan></text></g>
<g transform="translate(3042.5 1040.7)"><use href="#bx" fill="#828282"/><use href="#bx" fill="url(#n2)"/><use href="#tk"/><use href="#bx" class="sr"/><text class="tt" x="68" y="-8.2">845923</text><text class="ky" x="-10"><tspan y="6.4">0</tspan><tspan x="-10" y="60.5">20</tspan><tspan x="-10" y="114.6">40</tspan></text><text class="kx" y="156.5"><tspan x="1.4">0</tspan><tspan x="55.8">20</tspan><tspan x="109.9">40</tspan></text></g>
<g transform="translate(3240.8 1040.7)"><use href="#bx" fill="#787878"/><use href="#bx" fill="url(#n2)"/><use href="#tk"/><use href="#bx" class="sr"/><text class="tt" x="68" y="-8.2">845924</text><text class="ky" x="-10"><tspan y="6.4">0</tspan><tspan x="-10" y="60.5">20</tspan><tspan x="-10" y="114.6">40</tspan></text><text class="kx" y="156.5"><tspan x="1.4">0</tspan><tspan x="55.8">20</tspan><tspan x="109.9">40</tspan></text></g>
<g transform="translate(3439.1 1040.7)"><use href="#bx" fill="#919191"/><use href="#bx" fill="url(#n2)"/><use href="#tk"/><use href="#bx" class="sr"/><text class="tt" x="68" y="-8.2">845925</text><text class="ky" x="-10"><tspan y="6.4">0</tspan><tspan x="-10" y="60.5">20</tspan><tspan x="-10" y="114.6">40</tspan></text><text class="kx" y="156.5"><tspan x="1.4">0</tspan><tspan x="55.8">20</tspan><tspan x="109.9">40</tspan></text></g>

<g transform="translate(1852.7 1235.7)"><use href="#bx" fill="#787878"/><use href="#bx" fill="url(#n2)"/><use href="#tk"/><use href="#bx" class="sr"/><text class="tt" x="68" y="-8.2">845926</text><text class="ky" x="-10"><tspan y="6.4">0</tspan><tspan x="-10" y="60.5">20</tspan><tspan x="-10" y="114.6">40</tspan></text><text class="kx" y="156.5"><tspan x="1.4">0</tspan><tspan x="55.8">20</tspan><tspan x="109.9">40</tspan></text></g>
<g transform="translate(2051 1235.7)"><use href="#bx" fill="#737373"/><use href="#bx" fill="url(#n2)"/><use href="#tk"/><use href="#bx" class="sr"/><text class="tt" x="68" y="-8.2">845927</text><text class="ky" x="-10"><tspan y="6.4">0</tspan><tspan x="-10" y="60.5">20</tspan><tspan x="-10" y="114.6">40</tspan></text><text class="kx" y="156.5"><tspan x="1.4">0</tspan><tspan x="55.8">20</tspan><tspan x="109.9">40</tspan></text></g>
<g transform="translate(2249.3 1235.7)"><use href="#bx" fill="#828282"/><use href="#bx" fill="url(#n2)"/><use href="#tk"/><use href="#bx" class="sr"/><text class="tt" x="68" y="-8.2">845928</text><text class="ky" x="-10"><tspan y="6.4">0</tspan><tspan x="-10" y="60.5">20</tspan><tspan x="-10" y="114.6">40</tspan></text><text class="kx" y="156.5"><tspan x="1.4">0</tspan><tspan x="55.8">20</tspan><tspan x="109.9">40</tspan></text></g>
<g transform="translate(2447.6 1235.7)"><use href="#bx" fill="#828282"/><use href="#bx" fill="url(#n2)"/><use href="#tk"/><use href="#bx" class="sr"/><text class="tt" x="68" y="-8.2">845929</text><text class="ky" x="-10"><tspan y="6.4">0</tspan><tspan x="-10" y="60.5">20</tspan><tspan x="-10" y="114.6">40</tspan></text><text class="kx" y="156.5"><tspan x="1.4">0</tspan><tspan x="55.8">20</tspan><tspan x="109.9">40</tspan></text></g>
<g transform="translate(2645.9 1235.7)"><use href="#bx" fill="#969696"/><use href="#bx" fill="url(#n2)"/><use href="#tk"/><use href="#bx" class="sr"/><text class="tt" x="68" y="-8.2">845930</text><text class="ky" x="-10"><tspan y="6.4">0</tspan><tspan x="-10" y="60.5">20</tspan><tspan x="-10" y="114.6">40</tspan></text><text class="kx" y="156.5"><tspan x="1.4">0</tspan><tspan x="55.8">20</tspan><tspan x="109.9">40</tspan></text></g>
<g transform="translate(2844.2 1235.7)"><use href="#bx" fill="#828282"/><use href="#bx" fill="url(#n2)"/><use href="#tk"/><use href="#bx" class="sr"/><text class="tt" x="68" y="-8.2">845931</text><text class="ky" x="-10"><tspan y="6.4">0</tspan><tspan x="-10" y="60.5">20</tspan><tspan x="-10" y="114.6">40</tspan></text><text class="kx" y="156.5"><tspan x="1.4">0</tspan><tspan x="55.8">20</tspan><tspan x="109.9">40</tspan></text></g>
<g transform="translate(3042.5 1235.7)"><use href="#bx" fill="#7d7d7d"/><use href="#bx" fill="url(#n2)"/><use href="#tk"/><use href="#bx" class="sr"/><text class="tt" x="68" y="-8.2">845932</text><text class="ky" x="-10"><tspan y="6.4">0</tspan><tspan x="-10" y="60.5">20</tspan><tspan x="-10" y="114.6">40</tspan></text><text class="kx" y="156.5"><tspan x="1.4">0</tspan><tspan x="55.8">20</tspan><tspan x="109.9">40</tspan></text></g>
<g transform="translate(3240.8 1235.7)"><use href="#bx" fill="#7d7d7d"/><use href="#bx" fill="url(#n2)"/><use href="#tk"/><use href="#bx" class="sr"/><text class="tt" x="68" y="-8.2">845933</text><text class="ky" x="-10"><tspan y="6.4">0</tspan><tspan x="-10" y="60.5">20</tspan><tspan x="-10" y="114.6">40</tspan></text><text class="kx" y="156.5"><tspan x="1.4">0</tspan><tspan x="55.8">20</tspan><tspan x="109.9">40</tspan></text></g>
<g transform="translate(3439.1 1235.7)"><use href="#bx" fill="#878787"/><use href="#bx" fill="url(#n2)"/><use href="#tk"/><use href="#bx" class="sr"/><text class="tt" x="68" y="-8.2">845934</text><text class="ky" x="-10"><tspan y="6.4">0</tspan><tspan x="-10" y="60.5">20</tspan><tspan x="-10" y="114.6">40</tspan></text><text class="kx" y="156.5"><tspan x="1.4">0</tspan><tspan x="55.8">20</tspan><tspan x="109.9">40</tspan></text></g>

<g transform="translate(1852.7 1430.7)"><use href="#bx" fill="#737373"/><use href="#bx" fill="url(#n2)"/><use href="#tk"/><use href="#bx" class="sr"/><text class="tt" x="68" y="-8.2">845935</text><text class="ky" x="-10"><tspan y="6.4">0</tspan><tspan x="-10" y="60.5">20</tspan><tspan x="-10" y="114.6">40</tspan></text><text class="kx" y="156.5"><tspan x="1.4">0</tspan><tspan x="55.8">20</tspan><tspan x="109.9">40</tspan></text></g>
<g transform="translate(2051 1430.7)"><use href="#bx" fill="#828282"/><use href="#bx" fill="url(#n2)"/><use href="#tk"/><use href="#bx" class="sb"/><text class="tt" x="68" y="-8.2">845936</text><text class="ky" x="-10"><tspan y="6.4">0</tspan><tspan x="-10" y="60.5">20</tspan><tspan x="-10" y="114.6">40</tspan></text><text class="kx" y="156.5"><tspan x="1.4">0</tspan><tspan x="55.8">20</tspan><tspan x="109.9">40</tspan></text></g>
<g transform="translate(2249.3 1430.7)"><use href="#bx" fill="#787878"/><use href="#bx" fill="url(#n2)"/><rect width="136" height="16" fill="#8e8e8e"/><use href="#tk"/><use href="#bx" class="sb"/><text class="tt" x="68" y="-8.2">845937</text><text class="ky" x="-10"><tspan y="6.4">0</tspan><tspan x="-10" y="60.5">20</tspan><tspan x="-10" y="114.6">40</tspan></text><text class="kx" y="156.5"><tspan x="1.4">0</tspan><tspan x="55.8">20</tspan><tspan x="109.9">40</tspan></text></g>
<g transform="translate(2447.6 1430.7)"><use href="#bx" fill="#878787"/><use href="#bx" fill="url(#n2)"/><use href="#tk"/><use href="#bx" class="sb"/><text class="tt" x="68" y="-8.2">845938</text><text class="ky" x="-10"><tspan y="6.4">0</tspan><tspan x="-10" y="60.5">20</tspan><tspan x="-10" y="114.6">40</tspan></text><text class="kx" y="156.5"><tspan x="1.4">0</tspan><tspan x="55.8">20</tspan><tspan x="109.9">40</tspan></text></g>
<g transform="translate(2645.9 1430.7)"><use href="#bx" fill="#5f5f5f"/><use href="#bx" fill="url(#n2)"/><use href="#tk"/><use href="#bx" class="sb"/><text class="tt" x="68" y="-8.2">845939</text><text class="ky" x="-10"><tspan y="6.4">0</tspan><tspan x="-10" y="60.5">20</tspan><tspan x="-10" y="114.6">40</tspan></text><text class="kx" y="156.5"><tspan x="1.4">0</tspan><tspan x="55.8">20</tspan><tspan x="109.9">40</tspan></text></g>
<g transform="translate(2844.2 1430.7)"><use href="#bx" fill="#828282"/><use href="#bx" fill="url(#n2)"/><use href="#tk"/><use href="#bx" class="sb"/><text class="tt" x="68" y="-8.2">845940</text><text class="ky" x="-10"><tspan y="6.4">0</tspan><tspan x="-10" y="60.5">20</tspan><tspan x="-10" y="114.6">40</tspan></text><text class="kx" y="156.5"><tspan x="1.4">0</tspan><tspan x="55.8">20</tspan><tspan x="109.9">40</tspan></text></g>
<g transform="translate(3042.5 1430.7)"><use href="#bx" fill="#696969"/><use href="#bx" fill="url(#n2)"/><rect width="136" height="22" fill="#858585" opacity=".85"/><use href="#tk"/><use href="#bx" class="sb"/><text class="tt" x="68" y="-8.2">845941</text><text class="ky" x="-10"><tspan y="6.4">0</tspan><tspan x="-10" y="60.5">20</tspan><tspan x="-10" y="114.6">40</tspan></text><text class="kx" y="156.5"><tspan x="1.4">0</tspan><tspan x="55.8">20</tspan><tspan x="109.9">40</tspan></text></g>
<g transform="translate(3240.8 1430.7)"><use href="#bx" fill="#787878"/><use href="#bx" fill="url(#n2)"/><rect width="136" height="10" fill="#888"/><use href="#tk"/><use href="#bx" class="sb"/><text class="tt" x="68" y="-8.2">845942</text><text class="ky" x="-10"><tspan y="6.4">0</tspan><tspan x="-10" y="60.5">20</tspan><tspan x="-10" y="114.6">40</tspan></text><text class="kx" y="156.5"><tspan x="1.4">0</tspan><tspan x="55.8">20</tspan><tspan x="109.9">40</tspan></text></g>
<g transform="translate(3439.1 1430.7)"><use href="#bx" fill="#7d7d7d"/><use href="#bx" fill="url(#n2)"/><use href="#tk"/><use href="#bx" class="sb"/><text class="tt" x="68" y="-8.2">845943</text><text class="ky" x="-10"><tspan y="6.4">0</tspan><tspan x="-10" y="60.5">20</tspan><tspan x="-10" y="114.6">40</tspan></text><text class="kx" y="156.5"><tspan x="1.4">0</tspan><tspan x="55.8">20</tspan><tspan x="109.9">40</tspan></text></g>

<g transform="translate(1852.7 1625.7)"><use href="#bx" fill="#878787"/><use href="#bx" fill="url(#n2)"/><rect width="136" height="20" fill="#8a8a8a"/><rect y="8" width="136" height="5" fill="#9a9a9a"/><use href="#tk"/><use href="#bx" class="sb"/><text class="tt" x="68" y="-8.2">845944</text><text class="ky" x="-10"><tspan y="6.4">0</tspan><tspan x="-10" y="60.5">20</tspan><tspan x="-10" y="114.6">40</tspan></text><text class="kx" y="156.5"><tspan x="1.4">0</tspan><tspan x="55.8">20</tspan><tspan x="109.9">40</tspan></text></g>
<g transform="translate(2051 1625.7)"><use href="#bx" fill="#828282"/><use href="#bx" fill="url(#n2)"/><rect width="136" height="8" fill="#888"/><use href="#tk"/><use href="#bx" class="sb"/><text class="tt" x="68" y="-8.2">845945</text><text class="ky" x="-10"><tspan y="6.4">0</tspan><tspan x="-10" y="60.5">20</tspan><tspan x="-10" y="114.6">40</tspan></text><text class="kx" y="156.5"><tspan x="1.4">0</tspan><tspan x="55.8">20</tspan><tspan x="109.9">40</tspan></text></g>
<g transform="translate(2249.3 1625.7)"><use href="#bx" fill="#4b4b4b"/><use href="#bx" fill="url(#n2)"/><rect y="45" width="136" height="15" fill="#6e6e6e" opacity=".8"/><use href="#tk"/><use href="#bx" class="sb"/><text class="tt" x="68" y="-8.2">845946</text><text class="ky" x="-10"><tspan y="6.4">0</tspan><tspan x="-10" y="60.5">20</tspan><tspan x="-10" y="114.6">40</tspan></text><text class="kx" y="156.5"><tspan x="1.4">0</tspan><tspan x="55.8">20</tspan><tspan x="109.9">40</tspan></text></g>
</svg>
</body></html>
